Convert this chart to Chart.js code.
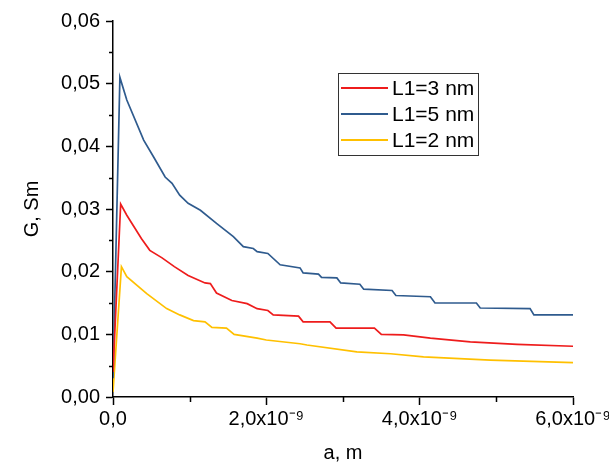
<!DOCTYPE html>
<html>
<head>
<meta charset="utf-8">
<script src="https://cdn.jsdelivr.net/npm/chart.js@4"></script>
<style>
html, body { margin: 0; padding: 0; background: #fff; }
#wrap { width: 609px; height: 470px; }
</style>
</head>
<body>
<div id="wrap"><canvas id="chart"></canvas></div>
<script>
// a is given in units of 1e-9 m, G in Sm
const aL3 = [0, 0.10, 0.18, 0.37, 0.48, 0.64, 0.80, 0.98, 1.20, 1.27, 1.35, 1.55, 1.75, 1.88, 2.02, 2.09, 2.42, 2.48, 2.83, 2.91, 3.41, 3.50, 3.79, 4.14, 4.66, 5.27, 6.0];
const gL3 = [0.004, 0.0308, 0.029, 0.0253, 0.0234, 0.0222, 0.0208, 0.0194, 0.0182, 0.0181, 0.0166, 0.0154, 0.0149, 0.0141, 0.0138, 0.0131, 0.0129, 0.0120, 0.0120, 0.0110, 0.0110, 0.0100, 0.0099, 0.0094, 0.0088, 0.0084, 0.0081];

const aL5 = [0, 0.09, 0.18, 0.40, 0.53, 0.68, 0.77, 0.87, 0.98, 1.14, 1.35, 1.57, 1.70, 1.83, 1.88, 2.02, 2.18, 2.44, 2.48, 2.68, 2.72, 2.92, 2.97, 3.22, 3.27, 3.64, 3.69, 4.14, 4.20, 4.74, 4.79, 5.44, 5.49, 6.0];
const gL5 = [0.003, 0.051, 0.0474, 0.041, 0.0383, 0.0351, 0.0341, 0.0322, 0.0309, 0.0298, 0.0277, 0.0256, 0.0240, 0.0237, 0.0232, 0.0229, 0.0211, 0.0206, 0.0198, 0.0196, 0.0191, 0.0190, 0.0182, 0.0180, 0.0172, 0.0170, 0.0162, 0.0160, 0.0150, 0.0150, 0.0142, 0.0141, 0.0131, 0.0131];

const aL2 = [0, 0.11, 0.18, 0.44, 0.70, 0.87, 1.05, 1.20, 1.29, 1.48, 1.58, 1.88, 2.0, 2.44, 2.53, 3.18, 3.62, 4.05, 4.92, 6.0];
const gL2 = [0.0008, 0.0208, 0.0192, 0.0165, 0.0141, 0.0131, 0.0122, 0.0120, 0.0111, 0.0110, 0.0100, 0.0094, 0.0091, 0.0085, 0.0083, 0.0072, 0.0069, 0.0064, 0.0059, 0.0055];

const seriesLabels = ['L1=3 nm', 'L1=5 nm', 'L1=2 nm'];
const seriesColors = ['#ee1c1c', '#2f5b8e', '#ffc000'];

const xMajor = [0, 2, 4, 6];
const xMinor = [1, 3, 5];
const yMajor = [0, 0.01, 0.02, 0.03, 0.04, 0.05, 0.06];
const yMinor = [0.005, 0.015, 0.025, 0.035, 0.045, 0.055];

function toPoints(xs, ys) {
    return xs.map((x, i) => ({ x: x, y: ys[i] }));
}

const family = 'Liberation Sans, Arial, sans-serif';
const tickFont = { family: family, size: 20 };

// short minor ticks between the labelled ones
const minorTicks = {
    id: 'minorTicks',
    afterDraw(chart) {
        const { ctx, scales: { x, y } } = chart;
        ctx.save();
        ctx.strokeStyle = '#000';
        ctx.lineWidth = 1.5;
        ctx.beginPath();
        xMinor.forEach(v => {
            const px = Math.round(x.getPixelForValue(v)) + 0.5;
            ctx.moveTo(px, x.top);
            ctx.lineTo(px, x.top + 5);
        });
        yMinor.forEach(v => {
            const py = Math.round(y.getPixelForValue(v)) + 0.5;
            ctx.moveTo(y.right, py);
            ctx.lineTo(y.right - 4, py);
        });
        ctx.stroke();
        ctx.restore();
    }
};

// legend drawn as a framed box inside the plot
const boxLegend = {
    id: 'boxLegend',
    afterDatasetsDraw(chart) {
        const ctx = chart.ctx;
        const x = 338, y = 73, w = 140, h = 82;
        ctx.save();
        ctx.fillStyle = '#fff';
        ctx.fillRect(x, y, w, h);
        ctx.strokeStyle = '#333';
        ctx.lineWidth = 1;
        ctx.strokeRect(x + 0.5, y + 0.5, w, h);
        ctx.font = '21px ' + family;
        ctx.textBaseline = 'middle';
        chart.data.datasets.forEach((ds, i) => {
            const ly = y + 15 + i * 26;
            ctx.strokeStyle = ds.borderColor;
            ctx.lineWidth = 2;
            ctx.beginPath();
            ctx.moveTo(x + 3, ly);
            ctx.lineTo(x + 50, ly);
            ctx.stroke();
            ctx.fillStyle = '#000';
            ctx.fillText(ds.label, x + 54, ly + 1);
        });
        ctx.restore();
    }
};

new Chart(document.getElementById('chart'), {
    type: 'line',
    data: {
        datasets: [
            { label: seriesLabels[0], data: toPoints(aL3, gL3), borderColor: seriesColors[0] },
            { label: seriesLabels[1], data: toPoints(aL5, gL5), borderColor: seriesColors[1] },
            { label: seriesLabels[2], data: toPoints(aL2, gL2), borderColor: seriesColors[2] }
        ]
    },
    options: {
        responsive: true,
        maintainAspectRatio: false,
        animation: false,
        layout: { padding: { top: 21, right: 36, left: 0, bottom: 0 } },
        elements: {
            point: { radius: 0 },
            line: { borderWidth: 1.7, tension: 0 }
        },
        plugins: {
            legend: { display: false },
            tooltip: { enabled: false }
        },
        scales: {
            x: {
                type: 'linear',
                min: 0,
                max: 6,
                afterFit(s) { s.height = 73; s.paddingLeft = 0; s.paddingRight = 0; },
                afterBuildTicks(s) { s.ticks = xMajor.map(v => ({ value: v })); },
                border: { display: true, color: '#000', width: 1.5 },
                grid: { drawOnChartArea: false, drawTicks: true, tickLength: 8, tickColor: '#000', tickWidth: 1.5 },
                ticks: {
                    autoSkip: false,
                    maxRotation: 0,
                    padding: 2,
                    color: '#000',
                    font: tickFont,
                    callback(v) {
                        return v === 0 ? '0,0' : v.toFixed(1).replace('.', ',') + 'x10\u207B\u2079';
                    }
                },
                title: { display: true, text: 'a, m', color: '#000', font: { family: family, size: 20 }, padding: { bottom: 5 } }
            },
            y: {
                min: 0,
                max: 0.06,
                afterFit(s) { s.width = 113; s.paddingTop = 0; s.paddingBottom = 0; },
                afterBuildTicks(s) { s.ticks = yMajor.map(v => ({ value: v })); },
                border: { display: true, color: '#000', width: 1.5 },
                grid: { drawOnChartArea: false, drawTicks: true, tickLength: 7, tickColor: '#000', tickWidth: 1.5 },
                ticks: {
                    autoSkip: false,
                    padding: 6,
                    color: '#000',
                    font: tickFont,
                    callback(v) { return v.toFixed(2).replace('.', ','); }
                },
                title: { display: true, text: 'G, Sm', color: '#000', font: { family: family, size: 20 }, padding: { top: 20 } }
            }
        }
    },
    plugins: [boxLegend, minorTicks]
});
</script>
</body>
</html>
